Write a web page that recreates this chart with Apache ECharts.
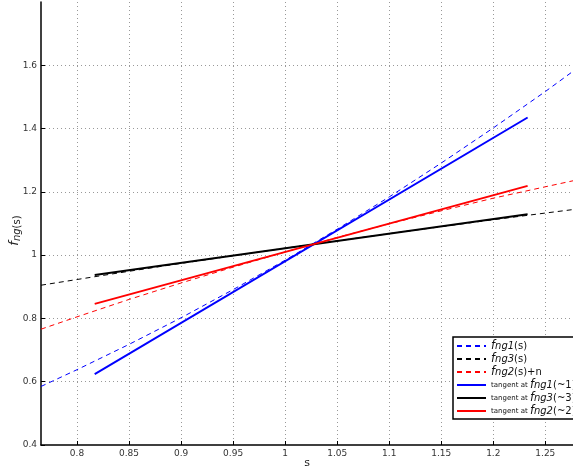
<!DOCTYPE html>
<html><head><meta charset="utf-8">
<script src="https://cdn.jsdelivr.net/npm/echarts@6/dist/echarts.min.js"></script>
<style>html,body{margin:0;padding:0;background:#fff}#c{width:573px;height:474px}</style>
</head><body><div id="c"></div>
<script>
var sGrid = [0.7654, 0.8, 0.85, 0.9, 0.95, 1.0, 1.05, 1.1, 1.15, 1.2, 1.25, 1.2766];
var fng1 = [0.585, 0.638, 0.718, 0.802, 0.891, 0.984, 1.082, 1.184, 1.291, 1.402, 1.517, 1.581];
var fng3 = [0.905, 0.923, 0.949, 0.974, 0.998, 1.022, 1.045, 1.068, 1.090, 1.112, 1.133, 1.144];
var fng2n = [0.766, 0.805, 0.860, 0.912, 0.962, 1.010, 1.056, 1.099, 1.140, 1.180, 1.216, 1.235];
var tanS = [0.817, 1.233];
var tan1 = [0.624, 1.435];
var tan3 = [0.937, 1.129];
var tan2 = [0.846, 1.219];
var xTicks = [0.8, 0.85, 0.9, 0.95, 1, 1.05, 1.1, 1.15, 1.2, 1.25];
var yTicks = [0.4, 0.6, 0.8, 1, 1.2, 1.4, 1.6];

function pairs(xs, ys) { return xs.map(function (x, i) { return [x, ys[i]]; }); }

var names = ['fng1', 'fng3', 'fng2n', 'tan1', 'tan3', 'tan2'];
var labels = {
  fng1: '{f|f}{s|ng1}{n|(s)}',
  fng3: '{f|f}{s|ng3}{n|(s)}',
  fng2n: '{f|f}{s|ng2}{n|(s)+n}',
  tan1: '{t|tangent at }{f|f}{s|ng1}{n|(~1)}',
  tan3: '{t|tangent at }{f|f}{s|ng3}{n|(~3)}',
  tan2: '{t|tangent at }{f|f}{s|ng2}{n|(~2)}'
};
var FONT = 'DejaVu Sans';
var chart = echarts.init(document.getElementById('c'));
function dashed(name, data, color) {
  return { name: name, type: 'line', data: data, symbol: 'none', smooth: false,
    lineStyle: { color: color, width: 1, type: [5, 4] }, itemStyle: { color: color }, z: 2 };
}
function solid(name, data, color) {
  return { name: name, type: 'line', data: data, symbol: 'none',
    lineStyle: { color: color, width: 2, type: 'solid' }, itemStyle: { color: color }, z: 3 };
}
chart.setOption({
  animation: false,
  backgroundColor: '#fff',
  grid: { left: 41, right: 0, top: 2, bottom: 29, containLabel: false, outerBoundsMode: 'none' },
  xAxis: {
    type: 'value', min: 0.7654, max: 1.2766, splitNumber: 10,
    name: 's', nameLocation: 'middle', nameGap: 13, nameMoveOverlap: false,
    nameTextStyle: { fontFamily: FONT, fontSize: 11, color: '#222' },
    axisLine: { show: true, lineStyle: { color: '#000', width: 1.5 } },
    axisTick: { show: true, inside: true, length: 4, lineStyle: { color: '#000' } },
    axisLabel: { margin: 4, fontFamily: FONT, fontSize: 9, color: '#333', showMinLabel: false, showMaxLabel: false },
    splitLine: { show: true, showMinLine: false, showMaxLine: false, lineStyle: { color: '#999', type: [1, 3], width: 1 } }
  },
  yAxis: {
    type: 'value', min: 0.4, max: 1.8, interval: 0.2,
    name: '{f|f}{s|ng}{n|(s)}', nameLocation: 'middle', nameGap: 19, nameRotate: 90, nameMoveOverlap: false,
    nameTextStyle: { fontFamily: FONT, color: '#222', padding: [0, 14, 0, 0],
      rich: { f: { fontFamily: FONT, fontStyle: 'italic', fontSize: 13, color: '#222' },
              s: { fontFamily: FONT, fontStyle: 'italic', fontSize: 10, color: '#222', padding: [4, 0, 0, 0] },
              n: { fontFamily: FONT, fontSize: 10, color: '#222', padding: [4, 0, 0, 0] } } },
    axisLine: { show: true, lineStyle: { color: '#000', width: 1.5 } },
    axisTick: { show: true, inside: true, length: 4, lineStyle: { color: '#000' } },
    axisLabel: { margin: 4, fontFamily: FONT, fontSize: 9, color: '#333', showMaxLabel: false },
    splitLine: { show: true, showMinLine: false, showMaxLine: false, lineStyle: { color: '#999', type: [1, 3], width: 1 } }
  },
  legend: {
    data: names.map(function (n) { return { name: n }; }),
    orient: 'vertical', left: 453, top: 337,
    backgroundColor: '#fff', borderColor: '#000', borderWidth: 1.5, borderRadius: 0,
    padding: [3, 30, 2, 3], itemGap: 1, itemWidth: 29, itemHeight: 12,
    itemStyle: { opacity: 0 },
    formatter: function (n) { return labels[n]; },
    textStyle: { fontFamily: FONT, color: '#111',
      rich: { f: { fontFamily: FONT, fontStyle: 'italic', fontSize: 11.5, color: '#111' },
              s: { fontFamily: FONT, fontStyle: 'italic', fontSize: 10, color: '#111' },
              n: { fontFamily: FONT, fontSize: 10, color: '#111' },
              t: { fontFamily: FONT, fontSize: 7, color: '#111' } } }
  },
  series: [
    dashed('fng1', pairs(sGrid, fng1), '#0000ff'),
    dashed('fng3', pairs(sGrid, fng3), '#000000'),
    dashed('fng2n', pairs(sGrid, fng2n), '#ff0000'),
    solid('tan1', pairs(tanS, tan1), '#0000ff'),
    solid('tan3', pairs(tanS, tan3), '#000000'),
    solid('tan2', pairs(tanS, tan2), '#ff0000')
  ]
});
</script></body></html>
